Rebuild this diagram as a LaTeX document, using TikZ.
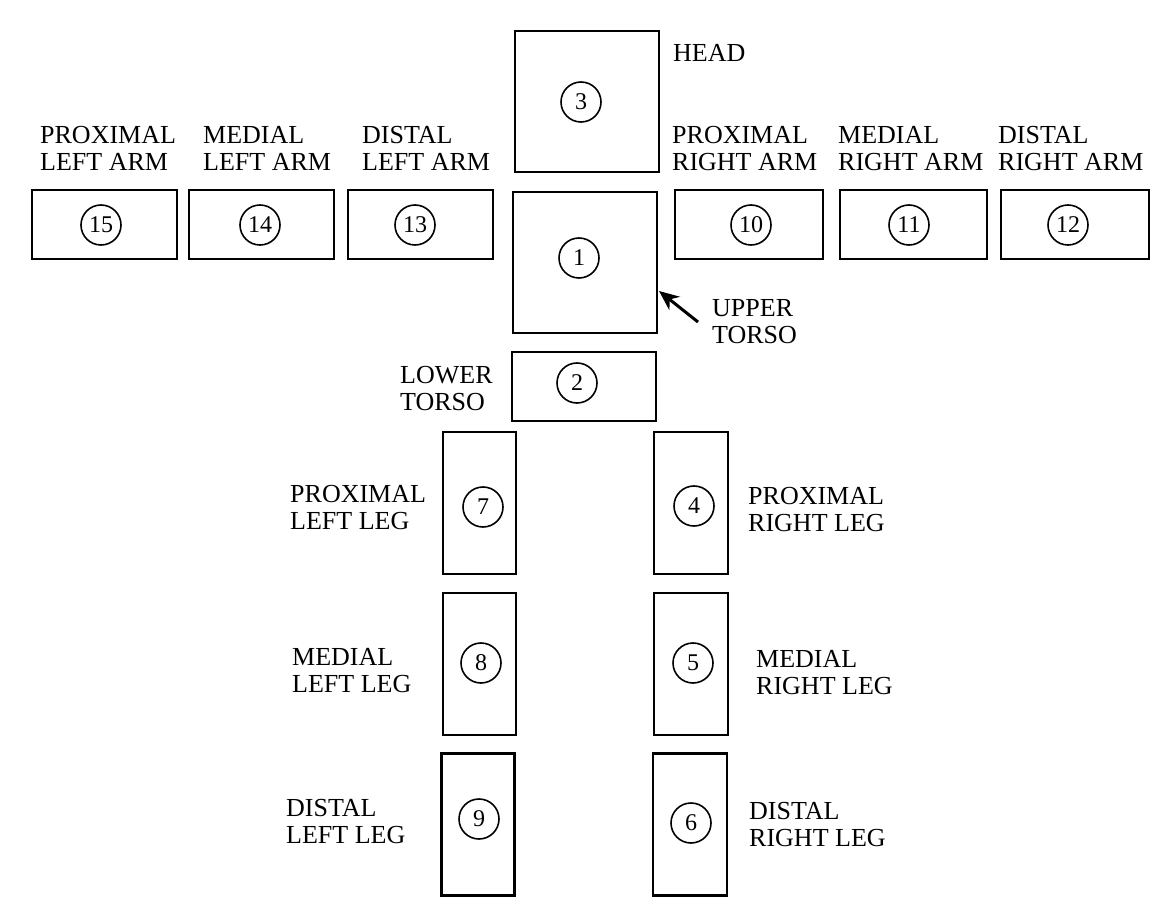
\documentclass[tikz,border=0pt]{standalone}
\usepackage{fontspec}
\setmainfont{Liberation Serif}
\usetikzlibrary{arrows.meta}
\begin{document}
\begin{tikzpicture}[x=1pt, y=-1pt,
  part/.style={draw, line width=2.2pt, inner sep=0pt},
  ring/.style={draw, circle, line width=1.6pt, minimum size=40pt, inner sep=0pt, font=\fontsize{24}{24}\selectfont},
  tag/.style={anchor=west, align=left, inner sep=0pt, font=\fontsize{26}{27}\selectfont}]
\useasboundingbox (0,0) rectangle (1152,909);
% trunk
\node[part, minimum width=144pt, minimum height=141pt] (head) at (587,101.5) {};
\node[part, minimum width=144pt, minimum height=141pt] (upper) at (585,262.5) {};
\node[part, minimum width=144pt, minimum height=69pt] (lower) at (584,386.5) {};
\node[ring] (n3) at (581,102) {3};
\node[ring] (n1) at (579,258) {1};
\node[ring] (n2) at (577,383) {2};
% arms
\node[part, minimum width=145pt, minimum height=69pt] (a15) at (104.5,224.5) {};
\node[part, minimum width=145pt, minimum height=69pt] (a14) at (261.5,224.5) {};
\node[part, minimum width=145pt, minimum height=69pt] (a13) at (420.5,224.5) {};
\node[part, minimum width=148pt, minimum height=69pt] (a10) at (749,224.5) {};
\node[part, minimum width=147pt, minimum height=69pt] (a11) at (913.5,224.5) {};
\node[part, minimum width=148pt, minimum height=69pt] (a12) at (1075,224.5) {};
\node[ring] (n15) at (101,225) {15};
\node[ring] (n14) at (260,225) {14};
\node[ring] (n13) at (415,225) {13};
\node[ring] (n10) at (751,225) {10};
\node[ring] (n11) at (909,225) {11};
\node[ring] (n12) at (1068,225) {12};
% legs
\node[part, minimum width=73pt, minimum height=142pt] (l7) at (479.5,503) {};
\node[part, minimum width=73pt, minimum height=142pt] (l8) at (479.5,664) {};
\node[part, minimum width=73pt, minimum height=142pt] (l9) at (478,824.5) {};
\node[part, minimum width=74pt, minimum height=142pt] (l4) at (691,503) {};
\node[part, minimum width=74pt, minimum height=142pt] (l5) at (691,664) {};
\node[part, minimum width=74pt, minimum height=142pt] (l6) at (690,824.5) {};
\node[ring] (n7) at (483,507) {7};
\node[ring] (n8) at (481,663) {8};
\node[ring] (n9) at (479,819) {9};
\node[ring] (n4) at (694,506) {4};
\node[ring] (n5) at (693,663) {5};
\node[ring] (n6) at (691,823) {6};
% labels
\node[tag] (thead) at (673,53) {HEAD};
\node[tag] (t15) at (40,148.5) {PROXIMAL\\LEFT ARM};
\node[tag] (t14) at (203,148.5) {MEDIAL\\LEFT ARM};
\node[tag] (t13) at (362,148.5) {DISTAL\\LEFT ARM};
\node[tag] (t10) at (672,148.5) {PROXIMAL\\RIGHT ARM};
\node[tag] (t11) at (838,148.5) {MEDIAL\\RIGHT ARM};
\node[tag] (t12) at (998,148.5) {DISTAL\\RIGHT ARM};
\node[tag] (tupper) at (712,322) {UPPER\\TORSO};
\node[tag] (tlower) at (400,389) {LOWER\\TORSO};
\node[tag] (t7) at (290,507.5) {PROXIMAL\\LEFT LEG};
\node[tag] (t8) at (292,671) {MEDIAL\\LEFT LEG};
\node[tag] (t9) at (286,822) {DISTAL\\LEFT LEG};
\node[tag] (t4) at (748,510) {PROXIMAL\\RIGHT LEG};
\node[tag] (t5) at (756,673) {MEDIAL\\RIGHT LEG};
\node[tag] (t6) at (749,825) {DISTAL\\RIGHT LEG};
% pointer
\coordinate (utip) at (659,291);
\draw[line width=3pt, -{Stealth[length=20pt, width=17pt]}] ([xshift=-14pt]tupper.west) -- (utip);
\end{tikzpicture}
\end{document}
